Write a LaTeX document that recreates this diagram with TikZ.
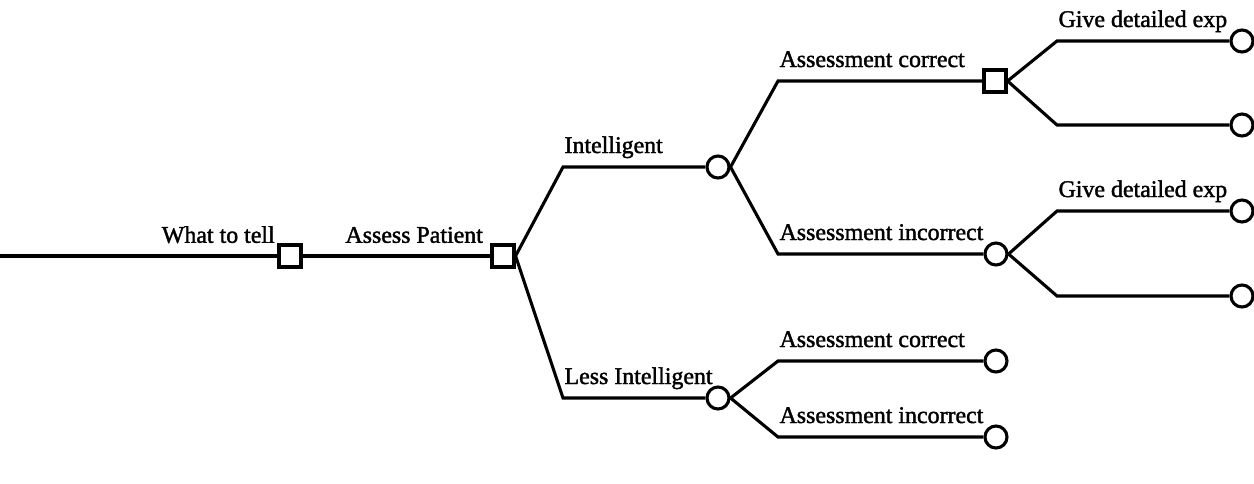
\documentclass[tikz,border=0pt]{standalone}
\usepackage{fontspec}
\setmainfont{Liberation Serif}
\newfontfamily\inkfont{Liberation Serif}[FakeBold=1.6]
\usetikzlibrary{positioning}

\begin{document}
\begin{tikzpicture}[x=0.025cm, y=-0.025cm, line width=2.2pt, font=\inkfont\fontsize{17}{20}\selectfont]
  \tikzstyle{dec} = [draw, rectangle, minimum size=0.55cm, inner sep=0pt, fill=white]
  \tikzstyle{chance} = [draw, circle, minimum size=0.55cm, inner sep=0pt, fill=white]
  \tikzstyle{lbl} = [anchor=base west, inner sep=0pt, yshift=0.35cm]
  \tikzstyle{lblr} = [anchor=base east, inner sep=0pt, yshift=0.33cm]
  \useasboundingbox (0,0) rectangle (1254,483);
  % root of the tree
  \coordinate (root) at (0,256);
  \node (tell) [dec] at (290,256) {};
  \node (assess) [dec] at (503,256) {};
  \node [lblr, xshift=-0.03cm] at (tell.west) {What to tell};
  \node [lblr, xshift=-0.15cm] at (assess.west) {Assess Patient};
  \draw (root) -- (tell) -- (assess);
  % patient type
  \coordinate (ci) at (563,167);
  \coordinate (cl) at (563,398);
  \node (intel) [chance] at (718,167) {};
  \node (less) [chance] at (718,398) {};
  \draw (assess.east) -- (ci) -- (intel);
  \draw (assess.east) -- (cl) -- (less);
  \node [lbl] at (ci) {Intelligent};
  \node [lbl] at (cl) {Less Intelligent};
  % intelligent branch
  \coordinate (cic) at (778,81);
  \coordinate (cii) at (778,254);
  \node (icor) [dec] at (995,81) {};
  \node (iinc) [chance] at (996,254) {};
  \draw (intel.east) -- (cic) -- (icor);
  \draw (intel.east) -- (cii) -- (iinc);
  \node [lbl] at (cic) {Assessment correct};
  \node [lbl] at (cii) {Assessment incorrect};
  % less intelligent branch
  \coordinate (clc) at (778,361);
  \coordinate (cli) at (778,437);
  \node (lcor) [chance] at (996,361) {};
  \node (linc) [chance] at (996,437) {};
  \draw (less.east) -- (clc) -- (lcor);
  \draw (less.east) -- (cli) -- (linc);
  \node [lbl] at (clc) {Assessment correct};
  \node [lbl] at (cli) {Assessment incorrect};
  % explanations
  \coordinate (e1) at (1057,41);
  \coordinate (e2) at (1057,125);
  \coordinate (e3) at (1057,211);
  \coordinate (e4) at (1057,296);
  \node (o1) [chance] at (1242,41) {};
  \node (o2) [chance] at (1242,125) {};
  \node (o3) [chance] at (1242,211) {};
  \node (o4) [chance] at (1242,296) {};
  \draw (icor.east) -- (e1) -- (o1);
  \draw (icor.east) -- (e2) -- (o2);
  \draw (iinc.east) -- (e3) -- (o3);
  \draw (iinc.east) -- (e4) -- (o4);
  \node [lbl] at (e1) {Give detailed exp};
  \node [lbl] at (e3) {Give detailed exp};
\end{tikzpicture}
\end{document}
